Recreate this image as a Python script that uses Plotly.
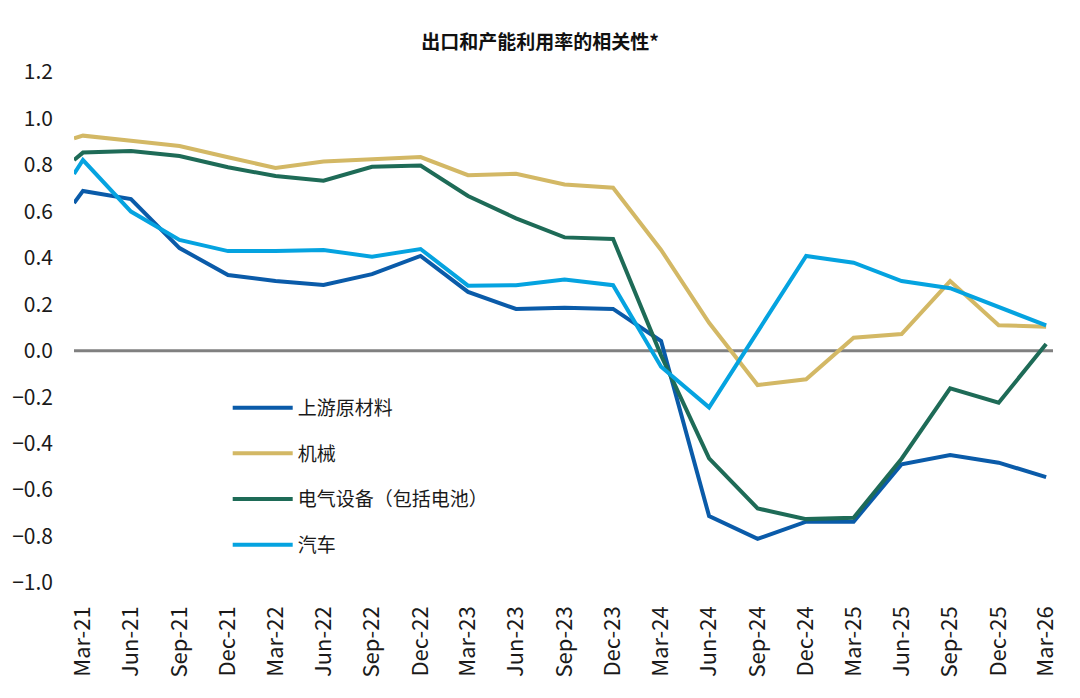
import plotly.graph_objects as go

# ---- data ----
dates = ["2021-03-14", "2021-03-31", "2021-06-30", "2021-09-30", "2021-12-31",
         "2022-03-31", "2022-06-30", "2022-09-30", "2022-12-31",
         "2023-03-31", "2023-06-30", "2023-09-30", "2023-12-31",
         "2024-03-31", "2024-06-30", "2024-09-30", "2024-12-31",
         "2025-03-31", "2025-06-30", "2025-09-30", "2025-12-31", "2026-03-31"]

tick_dates = dates[1:]
tick_labels = ["Mar-21", "Jun-21", "Sep-21", "Dec-21", "Mar-22", "Jun-22", "Sep-22", "Dec-22",
               "Mar-23", "Jun-23", "Sep-23", "Dec-23", "Mar-24", "Jun-24", "Sep-24", "Dec-24",
               "Mar-25", "Jun-25", "Sep-25", "Dec-25", "Mar-26"]

upstream = [0.636, 0.688, 0.653, 0.442, 0.326, 0.300, 0.283, 0.330, 0.408,
            0.253, 0.180, 0.185, 0.180, 0.042, -0.712, -0.810, -0.736,
            -0.736, -0.489, -0.449, -0.482, -0.544]
machinery = [0.914, 0.926, 0.904, 0.881, 0.833, 0.787, 0.815, 0.825, 0.834,
             0.756, 0.762, 0.716, 0.702, 0.434, 0.120, -0.148, -0.123,
             0.056, 0.072, 0.300, 0.110, 0.103]
electrical = [0.821, 0.853, 0.860, 0.838, 0.790, 0.752, 0.732, 0.792, 0.797,
              0.666, 0.570, 0.488, 0.481, -0.020, -0.463, -0.679, -0.725,
              -0.719, -0.465, -0.162, -0.224, 0.029]
autos = [0.761, 0.821, 0.599, 0.477, 0.429, 0.429, 0.434, 0.405, 0.438,
         0.280, 0.282, 0.307, 0.282, -0.069, -0.244, 0.080, 0.408,
         0.379, 0.300, 0.269, 0.187, 0.109]

series_names = ["上游原材料", "机械", "电气设备（包括电池）", "汽车"]
series_values = [upstream, machinery, electrical, autos]
series_colors = ["#0A5BA9", "#D3B865", "#1E6B57", "#05A3E0"]

y_ticks = [1.2, 1.0, 0.8, 0.6, 0.4, 0.2, 0.0, -0.2, -0.4, -0.6, -0.8, -1.0]

FONT = "Noto Sans CJK SC"

fig = go.Figure()
for i, (name, vals, col) in enumerate(zip(series_names, series_values, series_colors)):
    fig.add_trace(go.Scatter(
        x=dates, y=vals, mode="lines", name=name,
        line=dict(color=col, width=4),
        legendgroup=f"g{i}",
    ))

fig.add_hline(y=0, line=dict(color="#808080", width=3), layer="below")

fig.update_layout(
    width=1080, height=698,
    margin=dict(l=68, r=27, t=72, b=115),
    paper_bgcolor="white", plot_bgcolor="white",
    font=dict(family=FONT, color="#1a1a1a"),
    title=dict(text="<b>出口和产能利用率的相关性*</b>", x=0.5, xanchor="center",
               y=1 - 42 / 698, yanchor="middle",
               font=dict(size=19, family=FONT, color="#111")),
    showlegend=True,
    legend=dict(x=0.157, y=0.38, xanchor="left", yanchor="top",
                font=dict(size=19, family=FONT, color="#1a1a1a"),
                tracegroupgap=18, bgcolor="rgba(0,0,0,0)", itemwidth=60),
    xaxis=dict(
        range=["2021-03-14", "2026-04-13"],
        tickvals=tick_dates, ticktext=tick_labels,
        tickangle=-90, tickfont=dict(size=22, family=FONT, color="#1a1a1a"),
        showgrid=False, zeroline=False, showline=False, ticks="",
        ticklabelstandoff=18,
    ),
    yaxis=dict(
        range=[-1.0, 1.2], tickvals=y_ticks,
        tickformat=".1f",
        tickfont=dict(size=21, family=FONT, color="#1a1a1a"),
        showgrid=False, zeroline=False, showline=False, ticks="",
        ticklabelstandoff=20,
    ),
)

fig.write_html("out.html")
